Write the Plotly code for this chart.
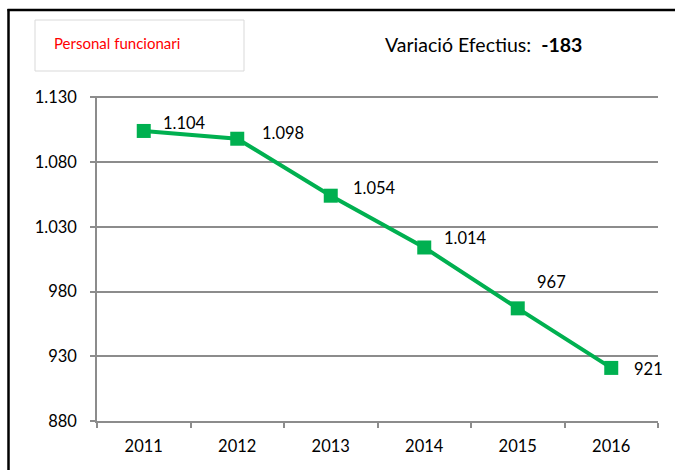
import plotly.graph_objects as go

years = ["2011", "2012", "2013", "2014", "2015", "2016"]
values = [1104, 1098, 1054, 1014, 967, 921]
value_labels = ["1.104", "1.098", "1.054", "1.014", "967", "921"]
y_ticks = [880, 930, 980, 1030, 1080, 1130]
y_tick_labels = ["880", "930", "980", "1.030", "1.080", "1.130"]
label_dx = [41, 46, 44, 41, 34, 37]
label_dy = [8, 6, 8, 9, 26, -1]

W, H = 675, 470
L, R, T, B = 97, 17, 96, 49
PW, PH = W - L - R, H - T - B

def px(x):
    return (x - L) / PW

def py(y):
    return (H - B - y) / PH

GREEN = "#00B050"
GRID = "#8c8c8c"
FONT = "Lato"
FS = 16.5

fig = go.Figure()
fig.add_trace(go.Scatter(
    x=years, y=values, mode="lines+markers",
    line=dict(color=GREEN, width=4),
    marker=dict(symbol="square", size=14, color=GREEN),
    hoverinfo="x+y", showlegend=False,
))

annotations = []
for i, (v, lab, dx, dy) in enumerate(zip(values, value_labels, label_dx, label_dy)):
    annotations.append(dict(
        x=i, y=v, xref="x", yref="y", text=lab, showarrow=False,
        xanchor="center", yanchor="middle",
        xshift=dx, yshift=dy, font=dict(family=FONT, size=FS, color="#000000"),
    ))

annotations.append(dict(
    x=px(52), y=py(43), xref="paper", yref="paper", xanchor="left", yanchor="middle",
    text="Personal funcionari", showarrow=False,
    font=dict(family=FONT, size=15, color="#ff0000"),
))
annotations.append(dict(
    x=px(483), y=py(44), xref="paper", yref="paper", xanchor="center", yanchor="middle",
    text="Variació Efectius:  <b>-183</b>", showarrow=False,
    font=dict(family=FONT, size=19.5, color="#000000"),
))

shapes = [
    # outer frame (top and left edges visible)
    dict(type="line", xref="paper", yref="paper", x0=px(7.5), x1=px(680), y0=py(10), y1=py(10),
         line=dict(color="#000000", width=2.5)),
    dict(type="line", xref="paper", yref="paper", x0=px(8.5), x1=px(8.5), y0=py(9), y1=py(480),
         line=dict(color="#000000", width=2.5)),
    # header box
    dict(type="rect", xref="paper", yref="paper", x0=px(35), x1=px(244), y0=py(20), y1=py(71),
         line=dict(color="#d9d9d9", width=1), fillcolor="rgba(0,0,0,0)"),
]

fig.update_layout(
    width=W, height=H,
    margin=dict(l=L, r=R, t=T, b=B, pad=0),
    paper_bgcolor="white", plot_bgcolor="white",
    separators=",.",
    annotations=annotations, shapes=shapes,
    font=dict(family=FONT, size=FS, color="#000000"),
)
fig.update_xaxes(
    type="category", range=[-0.5, 5.5],
    showline=True, linecolor=GRID, linewidth=1.5,
    showgrid=False, ticks="outside", tickson="boundaries",
    ticklen=5, tickcolor=GRID, tickwidth=1.5,
    tickfont=dict(family=FONT, size=FS), ticklabelstandoff=9,
)
fig.update_yaxes(
    range=[880, 1131], tickvals=y_ticks, ticktext=y_tick_labels,
    showline=True, linecolor=GRID, linewidth=1.5,
    showgrid=True, gridcolor=GRID, gridwidth=1.5,
    ticks="outside", ticklen=5, tickcolor=GRID, tickwidth=1.5,
    tickfont=dict(family=FONT, size=FS), ticklabelstandoff=10,
    zeroline=False,
)

fig.write_html(
    "out.html",
    config={"displayModeBar": False},
    post_script="document.body.style.margin='0';document.body.style.overflow='hidden';",
)
